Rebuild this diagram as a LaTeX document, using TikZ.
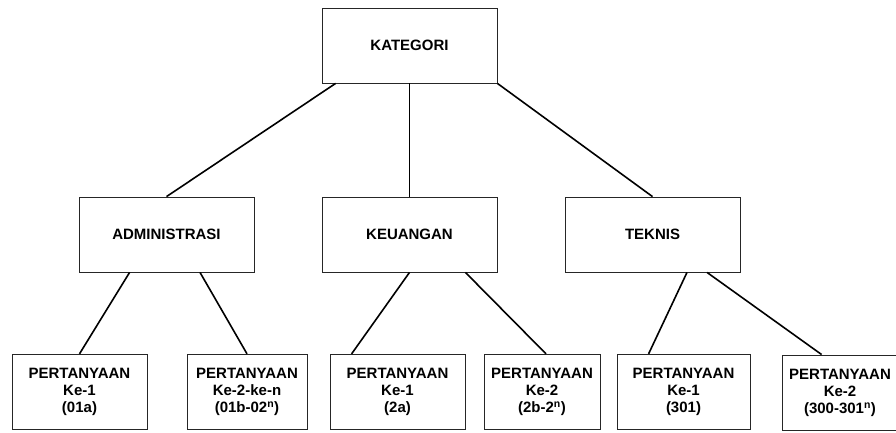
\documentclass[tikz,border=0pt]{standalone}
\usepackage{fontspec}
\setmainfont{Liberation Sans}
\begin{document}
\begin{tikzpicture}[
        x=1pt, y=-1pt,
        every node/.style={draw=black!85,line width=0.8pt,align=center,inner sep=0pt,font=\bfseries\fontsize{15}{17}\selectfont},
        catbox/.style={minimum width=175pt,minimum height=75pt},
        leafbox/.style={minimum height=75.5pt},
        link/.style={line width=1.6pt}
    ]
    \useasboundingbox (0,0) rectangle (896,432);

    \node[catbox] (kat) at (409.5,45.5) {KATEGORI};

    \node[catbox] (adm) at (166.5,234.5) {ADMINISTRASI};
    \node[catbox] (keu) at (409.5,234.5) {KEUANGAN};
    \node[catbox] (tek) at (652.5,234.5) {TEKNIS};

    \draw[link] ([xshift=14pt]kat.south west) -- (adm.north);
    \draw[link] (kat.south) -- (keu.north);
    \draw[link] (kat.south east) -- (tek.north);

    \node[leafbox,minimum width=135pt] (adm1) at (79.5,392) {PERTANYAAN\\Ke-1\\(01a)};
    \node[leafbox,minimum width=120pt] (adm2) at (247,392) {PERTANYAAN\\Ke-2-ke-n\\(01b-02\textsuperscript{n})};
    \node[leafbox,minimum width=135pt] (keu1) at (397.5,392) {PERTANYAAN\\Ke-1\\(2a)};
    \node[leafbox,minimum width=116pt] (keu2) at (542,392) {PERTANYAAN\\Ke-2\\(2b-2\textsuperscript{n})};
    \node[leafbox,minimum width=133pt] (tek1) at (683.5,392) {PERTANYAAN\\Ke-1\\(301)};
    \node[leafbox,minimum width=116pt] (tek2) at (840,392.7) {PERTANYAAN\\Ke-2\\(300-301\textsuperscript{n})};

    \draw[link] ([xshift=51pt]adm.south west) -- (adm1.north);
    \draw[link] ([xshift=33.5pt]adm.south) -- (adm2.north);
    \draw[link] (keu.south) -- ([xshift=22pt]keu1.north west);
    \draw[link] ([xshift=-32pt]keu.south east) -- ([xshift=4pt]keu2.north);
    \draw[link] ([xshift=34.5pt]tek.south) -- ([xshift=32pt]tek1.north west);
    \draw[link] ([xshift=54.5pt]tek.south) -- ([xshift=40pt]tek2.north west);
\end{tikzpicture}
\end{document}
